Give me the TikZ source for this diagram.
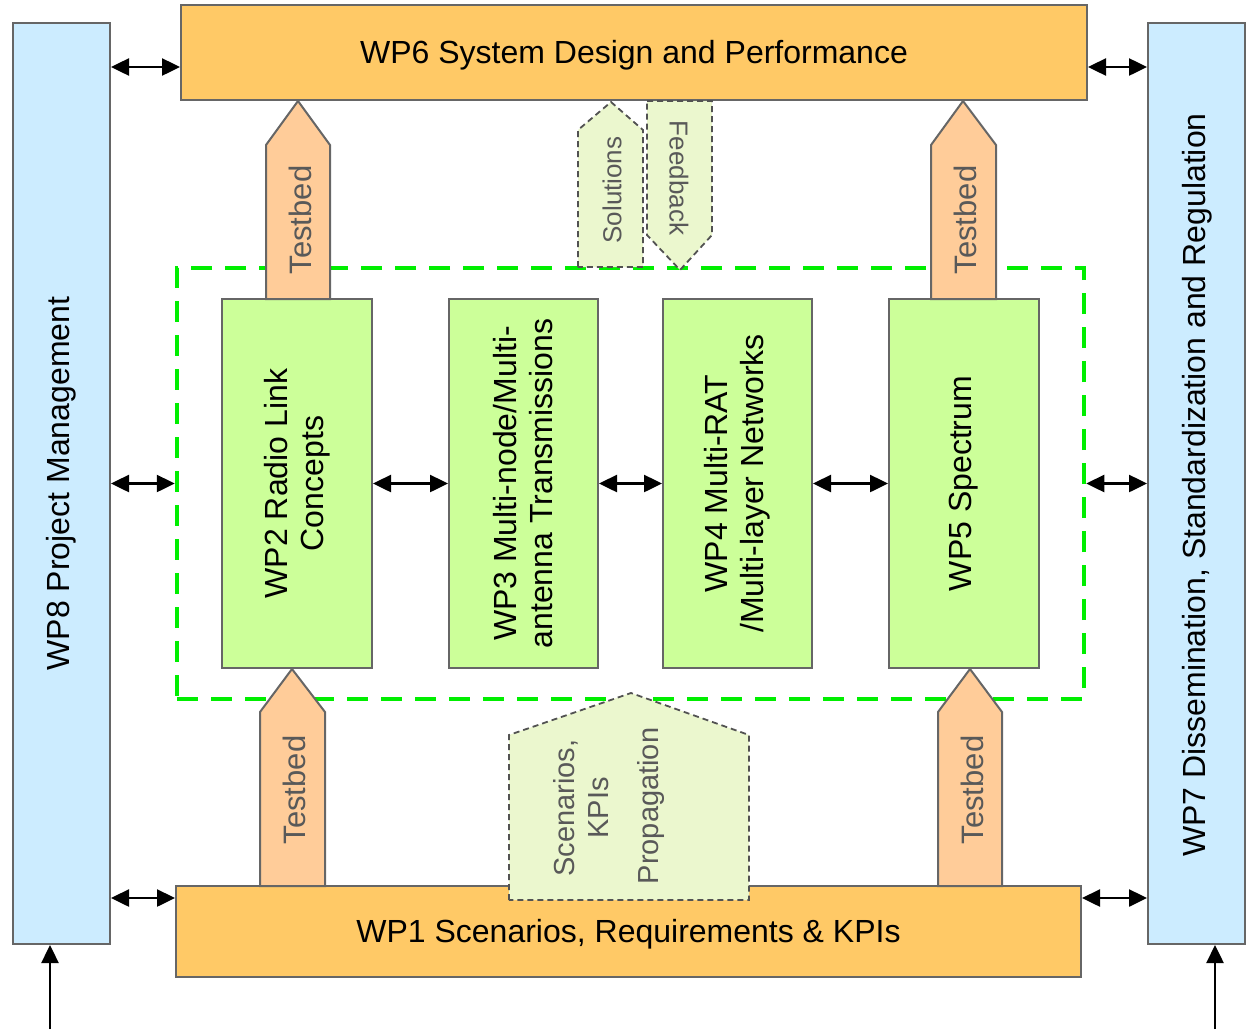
\documentclass[tikz,border=0pt]{standalone}
\usepackage{fontspec}
\setmainfont{Liberation Sans}
\usetikzlibrary{arrows.meta,calc}
\definecolor{wpor}{RGB}{255,201,102}
\definecolor{wpblue}{RGB}{204,236,255}
\definecolor{wpgreen}{RGB}{204,255,153}
\definecolor{tbfill}{RGB}{255,204,153}
\definecolor{palegreen}{RGB}{235,247,206}
\definecolor{edgegray}{RGB}{102,102,102}
\definecolor{txtgray}{RGB}{89,89,89}
\definecolor{brightgreen}{RGB}{0,238,0}
\begin{document}
\begin{tikzpicture}[x=1pt,y=-1pt,
  every node/.style={font=\fontsize{32}{36}\selectfont, inner sep=0pt},
  box/.style={draw=edgegray, line width=2pt, inner sep=0pt},
  vtext/.style={rotate=90, align=center},
  dbl/.style={{Triangle[length=18pt,width=17pt]}-{Triangle[length=18pt,width=17pt]}, line width=2.5pt, black},
  upin/.style={-{Triangle[length=18pt,width=17pt]}, line width=2.5pt, black},
  tbarrow/.style={draw=edgegray, line width=2pt, fill=tbfill, line join=miter},
  inarrow/.style={draw=edgegray!80!black, line width=1.8pt, fill=palegreen, dash pattern=on 6pt off 4pt},
  tbtext/.style={rotate=90, text=txtgray, font=\fontsize{31}{34}\selectfont},
  intext/.style={text=txtgray, align=center},
]
\useasboundingbox (0,0) rectangle (1247,1029);

% side boxes
\node[box, fill=wpblue, minimum width=97pt, minimum height=921pt] (wp8) at (61.5,483.5) {};
\node[vtext] (wp8t) at (wp8.center) {WP8 Project Management};
\node[box, fill=wpblue, minimum width=97pt, minimum height=921pt] (wp7) at (1196.5,483.5) {};
\node[vtext] (wp7t) at (1197,485) {WP7 Dissemination, Standardization and Regulation};

% top and bottom boxes
\node[box, fill=wpor, minimum width=906pt, minimum height=95pt] (wp6) at (634,52.5) {};
\node (wp6t) at ($(wp6.center)+(0,3)$) {WP6 System Design and Performance};
\node[box, fill=wpor, minimum width=905pt, minimum height=91pt] (wp1) at (628.5,931.5) {};
\node (wp1t) at ($(wp1.center)+(0,3)$) {WP1 Scenarios, Requirements \& KPIs};

% dashed core
\node[draw=brightgreen, line width=4.5pt, dash pattern=on 21pt off 13pt, minimum width=907pt, minimum height=431pt] (core) at (630.5,483.5) {};

% WP2-5
\node[box, fill=wpgreen, minimum width=150pt, minimum height=369pt] (wp2) at (297,483.5) {};
\node[vtext] (wp2t) at (wp2.center) {WP2 Radio Link\\Concepts};
\node[box, fill=wpgreen, minimum width=149pt, minimum height=369pt] (wp3) at (523.5,483.5) {};
\node[vtext] (wp3t) at (wp3.center) {WP3 Multi-node/Multi-\\antenna Transmissions};
\node[box, fill=wpgreen, minimum width=149pt, minimum height=369pt] (wp4) at (737.5,483.5) {};
\node[vtext] (wp4t) at (wp4.center) {WP4 Multi-RAT\\/Multi-layer Networks};
\node[box, fill=wpgreen, minimum width=150pt, minimum height=369pt] (wp5) at (964,483.5) {};
\node[vtext] (wp5t) at (wp5.center) {WP5 Spectrum};

% Testbed arrows
\draw[tbarrow] (266,299) -- (266,145) -- (298,101) -- (330,145) -- (330,299) -- cycle;
\node[tbtext] (tb1) at (300,220) {Testbed};
\draw[tbarrow] (931,299) -- (931,145) -- (963,101) -- (996,145) -- (996,299) -- cycle;
\node[tbtext] (tb2) at (965,220) {Testbed};
\draw[tbarrow] (260,886) -- (260,712) -- (292,669) -- (325,712) -- (325,886) -- cycle;
\node[tbtext] (tb3) at (294,790) {Testbed};
\draw[tbarrow] (938,886) -- (938,712) -- (970,669) -- (1002,712) -- (1002,886) -- cycle;
\node[tbtext] (tb4) at (972,790) {Testbed};

% Solutions / Feedback
\draw[inarrow] (578,267) -- (578,130) -- (611,102) -- (643,130) -- (643,267) -- cycle;
\node[intext, rotate=90, font=\fontsize{26}{30}\selectfont] (sol) at (612,190) {Solutions};
\draw[inarrow] (647,101) -- (712,101) -- (712,235) -- (680,270) -- (647,235) -- cycle;
\node[intext, rotate=-90, font=\fontsize{26}{30}\selectfont] (fb) at (679,178) {Feedback};

% Scenarios pentagon
\draw[inarrow] (509,900) -- (509,735) -- (631,693) -- (749,735) -- (749,900) -- cycle;
\node[intext, rotate=90, font=\fontsize{29}{34}\selectfont] (sk) at (581,808) {Scenarios,\\KPIs};
\node[intext, rotate=90, font=\fontsize{29}{34}\selectfont] (prop) at (651,806) {Propagation};

% connectors
\draw[dbl] (wp8.east |- 0,67) -- (wp6.west |- 0,67);
\draw[dbl] (wp6.east |- 0,67) -- (wp7.west |- 0,67);
\draw[dbl] (wp8.east) -- (core.west);
\draw[dbl] (core.east) -- (wp7.west);
\draw[dbl] (wp8.east |- 0,898) -- (wp1.west |- 0,898);
\draw[dbl] (wp1.east |- 0,898) -- (wp7.west |- 0,898);
\draw[dbl] (wp2.east) -- (wp3.west);
\draw[dbl] (wp3.east) -- (wp4.west);
\draw[dbl] (wp4.east) -- (wp5.west);
\coordinate (in8) at (50,1029);
\coordinate (in7) at (1215,1029);
\draw[upin] (in8) -- (in8 |- wp8.south);
\draw[upin] (in7) -- (in7 |- wp7.south);
\end{tikzpicture}
\end{document}
